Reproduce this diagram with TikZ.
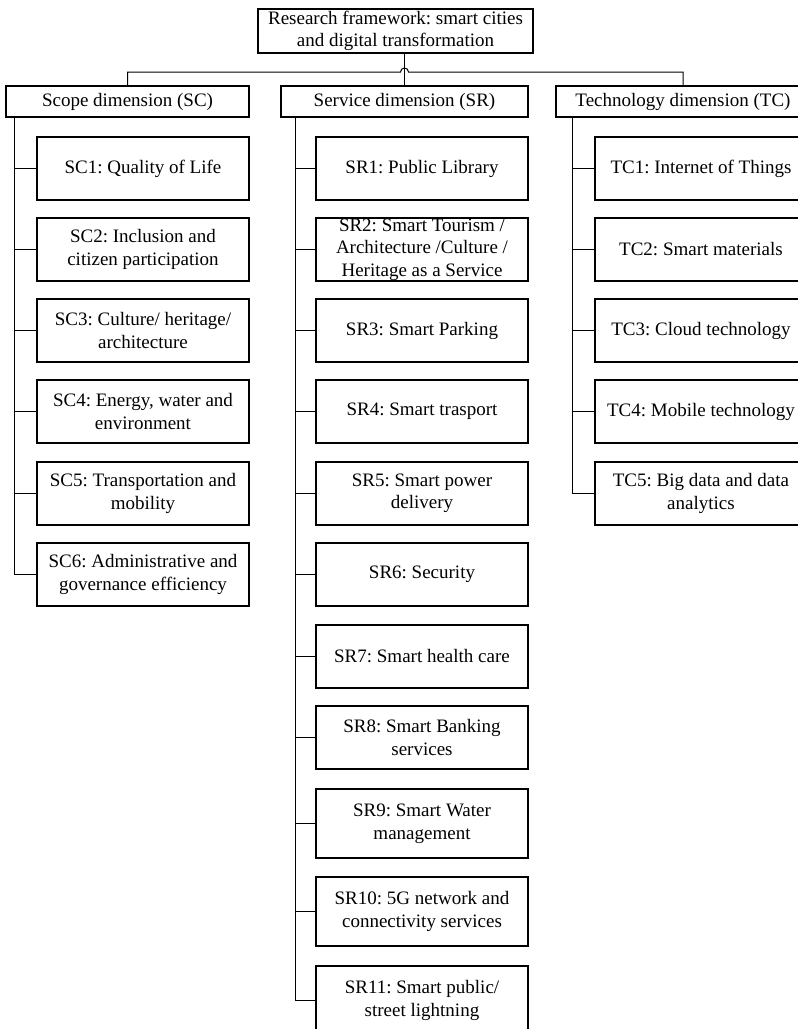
\documentclass[tikz,border=0pt]{standalone}
\usepackage{fontspec}
\setmainfont{Liberation Serif}
\frenchspacing
\usetikzlibrary{calc}

\begin{document}
\begin{tikzpicture}[x=1pt, y=-1pt,
  frame/.style={draw, line width=1.1pt, align=center, inner sep=0pt, font=\fontsize{19}{22.5}\selectfont},
  dimbox/.style={frame, minimum height=31pt},
  itembox/.style={frame, minimum width=212pt, minimum height=63pt},
  tallbox/.style={itembox, minimum height=69pt},
  link/.style={line width=1pt}
]
\useasboundingbox (0,0) rectangle (798,1029);

\node[frame, minimum width=275pt, minimum height=44pt] (top) at (395.5,31) {Research framework: smart cities\\and digital transformation};

\node[dimbox, minimum width=243pt] (scope) at (127.5,101.5) {Scope dimension (SC)};
\node[dimbox, minimum width=247pt] (service) at (404.5,101.5) {Service dimension (SR)};
\node[dimbox, minimum width=254pt] (tech) at (683,101.5) {Technology dimension (TC)};

\node[itembox] (sc1) at (143,168.5) {SC1: Quality of Life};
\node[itembox] (sc2) at (143,249.5) {SC2: Inclusion and\\citizen participation};
\node[itembox] (sc3) at (143,330.5) {SC3: Culture/ heritage/\\architecture};
\node[itembox] (sc4) at (143,411.5) {SC4: Energy, water and\\environment};
\node[itembox] (sc5) at (143,493.5) {SC5: Transportation and\\mobility};
\node[itembox] (sc6) at (143,574.5) {SC6: Administrative and\\governance efficiency};

\node[itembox] (sr1) at (422,168.5) {SR1: Public Library};
\node[itembox] (sr2) at (422,249.5) {SR2: Smart Tourism /\\Architecture /Culture /\\Heritage as a Service};
\node[itembox] (sr3) at (422,330.5) {SR3: Smart Parking};
\node[itembox] (sr4) at (422,411.5) {SR4: Smart trasport};
\node[itembox] (sr5) at (422,493.5) {SR5: Smart power\\delivery};
\node[itembox] (sr6) at (422,574.5) {SR6: Security};
\node[itembox] (sr7) at (422,656.5) {SR7: Smart health care};
\node[itembox] (sr8) at (422,737.5) {SR8: Smart Banking\\services};
\node[tallbox] (sr9) at (422,823.5) {SR9: Smart Water\\management};
\node[tallbox] (sr10) at (422,911.5) {SR10: 5G network and\\connectivity services};
\node[tallbox] (sr11) at (422,1000.5) {SR11: Smart public/\\street lightning};

\node[itembox] (tc1) at (701,168.5) {TC1: Internet of Things};
\node[itembox] (tc2) at (701,249.5) {TC2: Smart materials};
\node[itembox] (tc3) at (701,330.5) {TC3: Cloud technology};
\node[itembox] (tc4) at (701,411.5) {TC4: Mobile technology};
\node[itembox] (tc5) at (701,493.5) {TC5: Big data and data\\analytics};

\coordinate (bus) at (404.5,72);
\draw[link] (top.south -| service.north) -- (service.north);
\draw[link] (scope.north) |- ([xshift=-4pt]bus) arc[start angle=180, end angle=0, radius=4pt] -| (tech.north);

\coordinate (scspine) at ([xshift=9pt]scope.south west);
\coordinate (srspine) at ([xshift=15pt]service.south west);
\coordinate (tcspine) at ([xshift=17pt]tech.south west);

\draw[link] (scspine) |- (sc6.west);
\draw[link] (sc1.west) -- (sc1.west -| scspine);
\draw[link] (sc2.west) -- (sc2.west -| scspine);
\draw[link] (sc3.west) -- (sc3.west -| scspine);
\draw[link] (sc4.west) -- (sc4.west -| scspine);
\draw[link] (sc5.west) -- (sc5.west -| scspine);

\draw[link] (srspine) |- (sr11.west);
\draw[link] (sr1.west) -- (sr1.west -| srspine);
\draw[link] (sr2.west) -- (sr2.west -| srspine);
\draw[link] (sr3.west) -- (sr3.west -| srspine);
\draw[link] (sr4.west) -- (sr4.west -| srspine);
\draw[link] (sr5.west) -- (sr5.west -| srspine);
\draw[link] (sr6.west) -- (sr6.west -| srspine);
\draw[link] (sr7.west) -- (sr7.west -| srspine);
\draw[link] (sr8.west) -- (sr8.west -| srspine);
\draw[link] (sr9.west) -- (sr9.west -| srspine);
\draw[link] (sr10.west) -- (sr10.west -| srspine);

\draw[link] (tcspine) |- (tc5.west);
\draw[link] (tc1.west) -- (tc1.west -| tcspine);
\draw[link] (tc2.west) -- (tc2.west -| tcspine);
\draw[link] (tc3.west) -- (tc3.west -| tcspine);
\draw[link] (tc4.west) -- (tc4.west -| tcspine);

\end{tikzpicture}
\end{document}
